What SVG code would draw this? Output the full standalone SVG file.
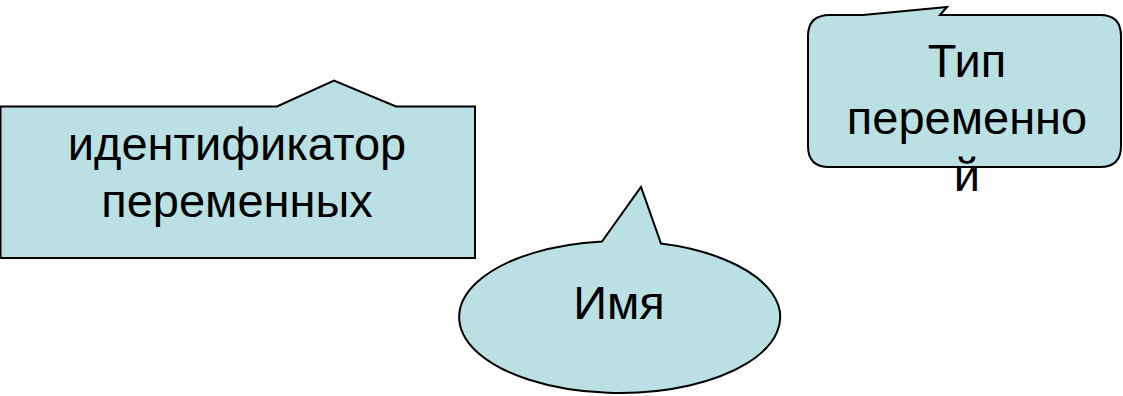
<svg xmlns="http://www.w3.org/2000/svg" width="1123" height="396" viewBox="0 0 1123 396">
<style>
.shape{fill:#BBE0E3;stroke:#000;stroke-width:2;stroke-linejoin:miter}
.lbl{font-family:"Liberation Sans",Arial,sans-serif;font-size:47px;fill:#000;text-anchor:middle}
</style>
<rect width="1123" height="396" fill="#fff"/>
<g id="connectors"></g>
<g id="node-identifier">
<path class="shape" d="M0.5,106.5 H277 L334,80.5 L396,106.5 H475 V258 H0.5 Z"/>
<text class="lbl" x="237" y="160">идентификатор</text>
<text class="lbl" x="237" y="217">переменных</text>
</g>
<g id="node-name">
<path class="shape" d="M602,241.5 L641,187 L661,243.6 A160.5,76 0 1 1 602,241.5 Z"/>
<text class="lbl" x="619" y="319">Имя</text>
</g>
<g id="node-type">
<path class="shape" d="M830,15 H863 L947,7 L940,15 H1100 Q1121,15 1121,36 V146 Q1121,167 1100,167 H829 Q808,167 808,146 V36 Q808,15 830,15 Z"/>
<text class="lbl" x="967" y="77">Тип</text>
<text class="lbl" x="967" y="134">переменно</text>
<text class="lbl" x="967" y="191">й</text>
</g>
</svg>
